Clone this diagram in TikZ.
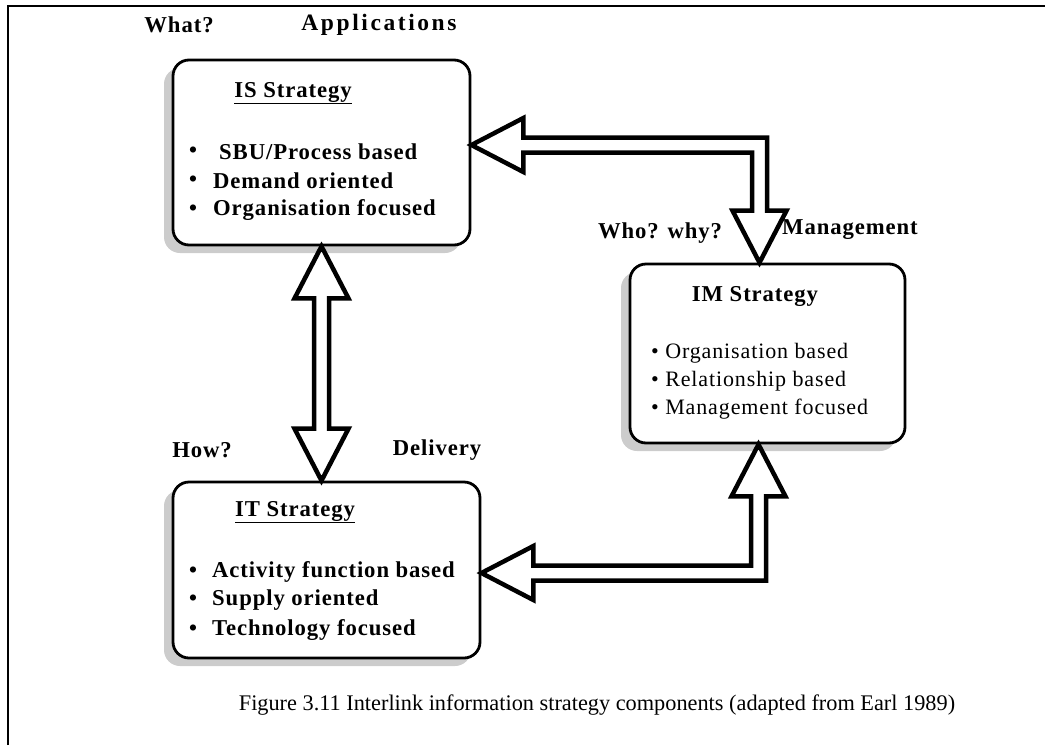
\documentclass[tikz,border=0pt]{standalone}
\usepackage{fontspec}
\setmainfont{Liberation Serif}
\newfontfamily\labelfont{Liberation Serif}[LetterSpace=4]
\newfontfamily\widefont{Liberation Serif}[LetterSpace=11]
\usetikzlibrary{calc,shadows}
\begin{document}
\begin{tikzpicture}[x=1pt,y=-1pt,
  stratbox/.style={draw=black, line width=2.8pt, rounded corners=16pt, fill=white,
    inner sep=0pt, general shadow={fill=black!20, shadow xshift=-9pt, shadow yshift=-8pt}},
  bold/.style={font=\labelfont\fontsize{22.7}{26}\selectfont\bfseries, inner sep=0pt},
  widebold/.style={font=\widefont\fontsize{23.5}{26}\selectfont\bfseries, inner sep=0pt},
  plain/.style={font=\labelfont\fontsize{22}{26}\selectfont, inner sep=0pt},
  item/.style={bold, anchor=west},
  plainitem/.style={plain, anchor=west},
  blockarrow/.style={draw=black, fill=white, line width=4.5pt, line join=miter, miter limit=8},
  caption/.style={font=\fontsize{22.3}{26}\selectfont, inner sep=0pt}
]
\useasboundingbox (0,0) rectangle (1045,745);
% frame
\draw[line width=1.6pt] (8,745) -- (8,6) -- (1045,6);

% the three strategy boxes
\node[stratbox, minimum width=297pt, minimum height=185pt] (IS) at (321.5,152.5) {};
\node[stratbox, minimum width=275pt, minimum height=179pt] (IM) at (767.5,353.5) {};
\node[stratbox, minimum width=307pt, minimum height=176pt] (IT) at (326.5,570) {};

% IS strategy
\node[bold] (what) at (179,25) {What?};
\node[widebold] (apps) at (379,25) {Applications};
\node[bold] (ist) at (293,93) {\underline{IS Strategy}};
\node[item] (isb1) at (189,152) {•};
\node[item] (is1) at (219,152) {SBU/Process based};
\node[item] (isb2) at (189,181) {•};
\node[item] (is2) at (213,181) {Demand oriented};
\node[item] (isb3) at (189,210) {•};
\node[item] (is3) at (213,210) {Organisation focused};

% IM strategy
\node[bold] (who) at (660,233) {Who? why?};
\node[bold] (mgmt) at (850,230) {Management};
\node[bold] (imt) at (755,296) {IM Strategy};
\node[plainitem] (im1) at (651,353) {• Organisation based};
\node[plainitem] (im2) at (651,381) {• Relationship based};
\node[plainitem] (im3) at (651,409) {• Management focused};

% IT strategy
\node[bold] (how) at (202,450) {How?};
\node[bold] (deliv) at (437,450) {Delivery};
\node[bold] (itt) at (295,512) {\underline{IT Strategy}};
\node[item] (itb1) at (189,572) {•};
\node[item] (it1) at (212,572) {Activity function based};
\node[item] (itb2) at (189,600) {•};
\node[item] (it2) at (212,600) {Supply oriented};
\node[item] (itb3) at (189,630) {•};
\node[item] (it3) at (212,630) {Technology focused};

% connector end points
\coordinate (a1) at ($(IS.east)+(0,-7.5)$);
\coordinate (a2) at ($(IM.north)+(-8,0)$);
\coordinate (b1) at ($(IT.east)+(0,3)$);
\coordinate (b2) at ($(IM.south)+(-9,0)$);
\coordinate (c1) at (IS.south);
\coordinate (c2) at (IS.south |- IT.north);

% IS <-> IT double block arrow
\draw[blockarrow] let \p1=(c1), \p2=(c2) in
  (\p1) -- (\x1+27pt,\y1-52pt) -- (\x1+7.5pt,\y1-52pt) -- (\x1+7.5pt,\y2+52pt)
  -- (\x1+27pt,\y2+52pt) -- (\p2) -- (\x1-27pt,\y2+52pt) -- (\x1-7.5pt,\y2+52pt)
  -- (\x1-7.5pt,\y1-52pt) -- (\x1-27pt,\y1-52pt) -- cycle;

% IM -> IS bent block arrow
\draw[blockarrow] let \p1=(a1), \p2=(a2) in
  (\p1) -- (\x1+52pt,\y1+27pt) -- (\x1+52pt,\y1+7.5pt) -- (\x2+7.5pt,\y1+7.5pt)
  -- (\x2+7.5pt,\y2+52pt) -- (\x2+27pt,\y2+52pt) -- (\p2) -- (\x2-27pt,\y2+52pt)
  -- (\x2-7.5pt,\y2+52pt) -- (\x2-7.5pt,\y1-7.5pt) -- (\x1+52pt,\y1-7.5pt)
  -- (\x1+52pt,\y1-27pt) -- cycle;

% IM -> IT bent block arrow
\draw[blockarrow] let \p1=(b1), \p2=(b2) in
  (\p1) -- (\x1+52pt,\y1+27pt) -- (\x1+52pt,\y1+7.5pt) -- (\x2-7.5pt,\y1+7.5pt)
  -- (\x2-7.5pt,\y2-52pt) -- (\x2-27pt,\y2-52pt) -- (\p2) -- (\x2+27pt,\y2-52pt)
  -- (\x2+7.5pt,\y2-52pt) -- (\x2+7.5pt,\y1-7.5pt) -- (\x1+52pt,\y1-7.5pt)
  -- (\x1+52pt,\y1-27pt) -- cycle;

% caption
\node[caption] (cap) at (597,705) {Figure 3.11 Interlink information strategy components (adapted from Earl 1989)};
\end{tikzpicture}
\end{document}
